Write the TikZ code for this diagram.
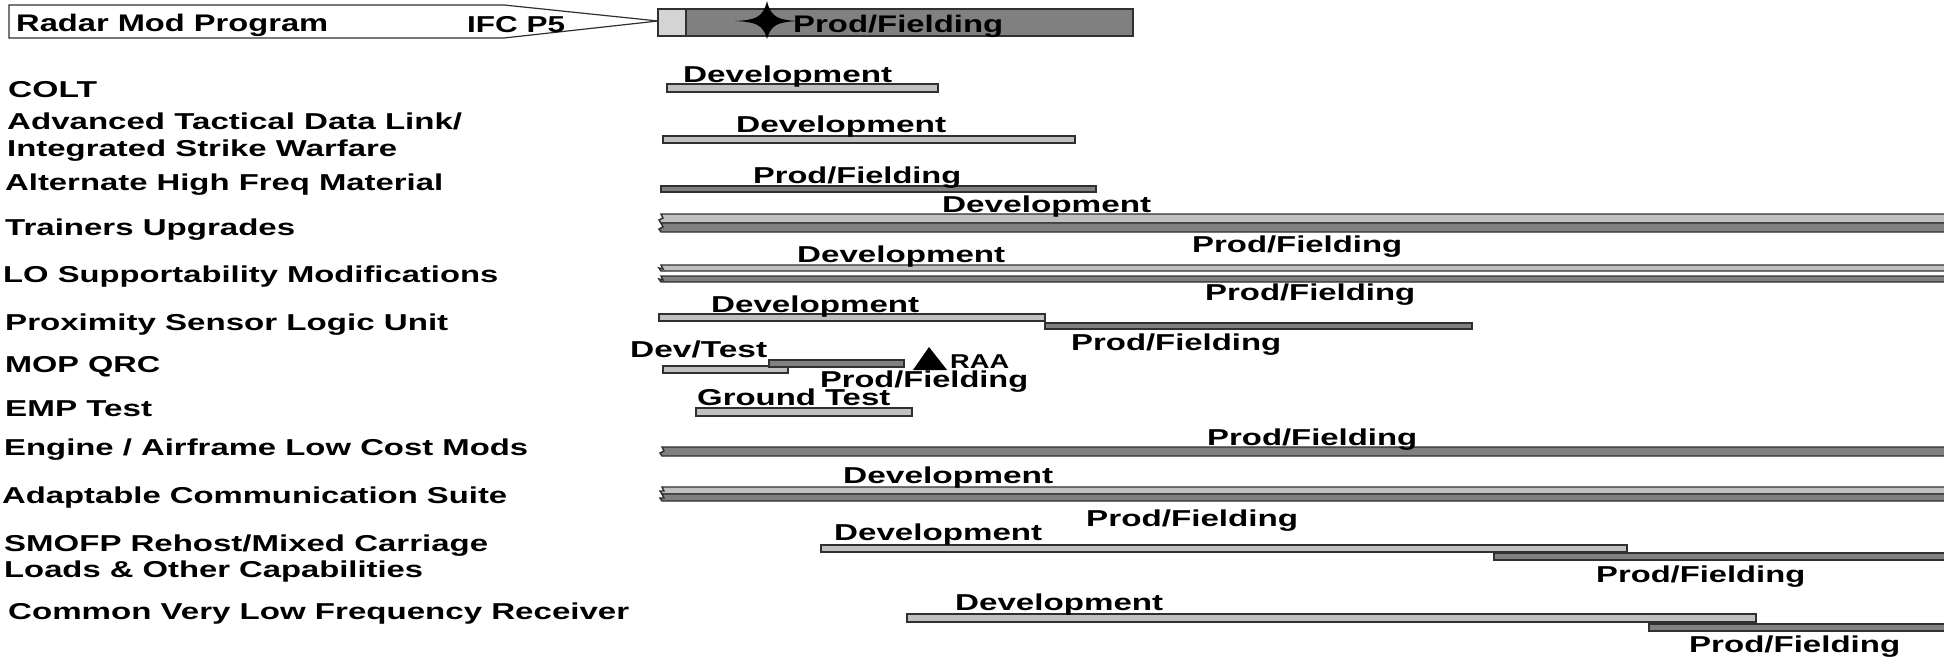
\documentclass[tikz,border=0pt]{standalone}
\usepackage{fontspec}
\setmainfont{Liberation Sans}
\usepackage{graphicx}
\definecolor{edgec}{HTML}{303030}
\definecolor{lightc}{HTML}{C0C0C0}
\definecolor{darkc}{HTML}{808080}
\definecolor{sqc}{HTML}{D4D4D4}
\newcommand{\fitw}[2]{\resizebox{#1pt}{\height}{#2}}
\newcommand{\jbar}[4]{\draw[#1] (#2,#3) -- (1952,#3) -- (1952,#4) -- (#2,#4) -- (#2-2,#4-3) -- (#2+2,#3+4) -- cycle;}
\begin{document}
\begin{tikzpicture}[x=1pt,y=-1pt,
  lab/.style={anchor=base west, inner sep=0pt, font=\fontsize{23}{23}\selectfont\bfseries},
  big/.style={anchor=base west, inner sep=0pt, font=\fontsize{24}{24}\selectfont\bfseries},
  sml/.style={anchor=base west, inner sep=0pt, font=\fontsize{20}{20}\selectfont\bfseries},
  lbar/.style={draw=edgec, fill=lightc, line width=1.4pt},
  dbar/.style={draw=edgec, fill=darkc, line width=1.4pt}]
\fill[white] (0,0) rectangle (1944,658);
\useasboundingbox (0,0) rectangle (1944,658);

% Radar Mod Program header
\draw[draw=edgec, line width=1.2pt] (9,5) -- (504,5) -- (658,21) -- (504,38) -- (9,38) -- cycle;
\draw[draw=edgec, fill=sqc, line width=1.4pt] (658,9) rectangle (686,36);
\draw[dbar] (686,9) rectangle (1133,36);
\fill[black] (735,21) .. controls (755,20) and (763,18) .. (767,1)
  .. controls (771,18) and (779,20) .. (798,21)
  .. controls (779,22) and (771,24) .. (767,39)
  .. controls (763,24) and (755,22) .. (735,21) -- cycle;
\node[big] (tradar) at (16,32) {\fitw{312}{Radar Mod Program}};
\node[lab] (tifc) at (467,33) {\fitw{98}{IFC P5}};
\node[big] (pradar) at (793,33) {\fitw{210}{Prod/Fielding}};

% left labels
\node[lab] (tcolt) at (8,98) {\fitw{89}{COLT}};
\node[lab] (tatdl) at (7,130) {\fitw{455}{Advanced Tactical Data Link/}};
\node[lab] (tisw) at (7,157) {\fitw{390}{Integrated Strike Warfare}};
\node[lab] (tahf) at (5,190) {\fitw{438}{Alternate High Freq Material}};
\node[lab] (ttu) at (5,235) {\fitw{290}{Trainers Upgrades}};
\node[lab] (tlo) at (3,282) {\fitw{495}{LO Supportability Modifications}};
\node[lab] (tpslu) at (5,330) {\fitw{443}{Proximity Sensor Logic Unit}};
\node[lab] (tmop) at (5,372) {\fitw{155}{MOP QRC}};
\node[lab] (temp) at (5,416) {\fitw{147}{EMP Test}};
\node[lab] (teng) at (4,455) {\fitw{524}{Engine / Airframe Low Cost Mods}};
\node[lab] (tacs) at (2,503) {\fitw{505}{Adaptable Communication Suite}};
\node[lab] (tsmofp) at (4,551) {\fitw{484}{SMOFP Rehost/Mixed Carriage}};
\node[lab] (tloads) at (4,577) {\fitw{419}{Loads \& Other Capabilities}};
\node[lab] (tcvlf) at (8,619) {\fitw{621}{Common Very Low Frequency Receiver}};

% COLT
\draw[lbar] (667,84) rectangle (938,92);
\node[lab] (dcolt) at (683,83) {\fitw{209}{Development}};
% ATDL
\draw[lbar] (663,136) rectangle (1075,143);
\node[lab] (datdl) at (736,133) {\fitw{210}{Development}};
% Alt HF
\draw[dbar] (661,186) rectangle (1096,192);
\node[lab] (pahf) at (753,183) {\fitw{208}{Prod/Fielding}};
% Trainers
\jbar{lbar}{661}{214}{223}
\jbar{dbar}{661}{223}{232}
\node[lab] (dtu) at (942,212) {\fitw{209}{Development}};
\node[lab] (ptu) at (1192,252) {\fitw{210}{Prod/Fielding}};
% LO
\jbar{lbar}{661}{265}{271}
\jbar{dbar}{661}{276}{282}
\node[lab] (dlo) at (797,262) {\fitw{208}{Development}};
\node[lab] (plo) at (1205,300) {\fitw{210}{Prod/Fielding}};
% PSLU
\draw[lbar] (659,314) rectangle (1045,321);
\draw[dbar] (1045,323) rectangle (1472,329);
\node[lab] (dpslu) at (711,312) {\fitw{208}{Development}};
\node[lab] (ppslu) at (1071,350) {\fitw{210}{Prod/Fielding}};
% MOP QRC
\draw[lbar] (663,366) rectangle (788,373);
\draw[dbar] (769,360) rectangle (904,367);
\fill[black] (913,370) -- (929,347) -- (947,370) -- cycle;
\node[lab] (dmop) at (630,357) {\fitw{137}{Dev/Test}};
\node[sml] (raa) at (950,368) {\fitw{59}{RAA}};
\node[lab] (pmop) at (820,387) {\fitw{208}{Prod/Fielding}};
% EMP
\draw[lbar] (696,408) rectangle (912,416);
\node[lab] (gemp) at (697,405) {\fitw{193}{Ground Test}};
% Engine
\jbar{dbar}{662}{447}{456}
\node[lab] (peng) at (1207,445) {\fitw{210}{Prod/Fielding}};
% ACS
\jbar{lbar}{662}{487}{494}
\jbar{dbar}{662}{494}{501}
\node[lab] (dacs) at (843,483) {\fitw{210}{Development}};
% SMOFP
\draw[lbar] (821,545) rectangle (1627,552);
\draw[dbar] (1494,553) rectangle (1952,560);
\node[lab] (psm1) at (1086,526) {\fitw{212}{Prod/Fielding}};
\node[lab] (dsm) at (834,540) {\fitw{208}{Development}};
\node[lab] (psm2) at (1596,582) {\fitw{209}{Prod/Fielding}};
% CVLFR
\draw[lbar] (907,614) rectangle (1756,622);
\draw[dbar] (1649,624) rectangle (1952,631);
\node[lab] (dcv) at (955,610) {\fitw{208}{Development}};
\node[lab] (pcv) at (1689,652) {\fitw{211}{Prod/Fielding}};
\end{tikzpicture}
\end{document}
